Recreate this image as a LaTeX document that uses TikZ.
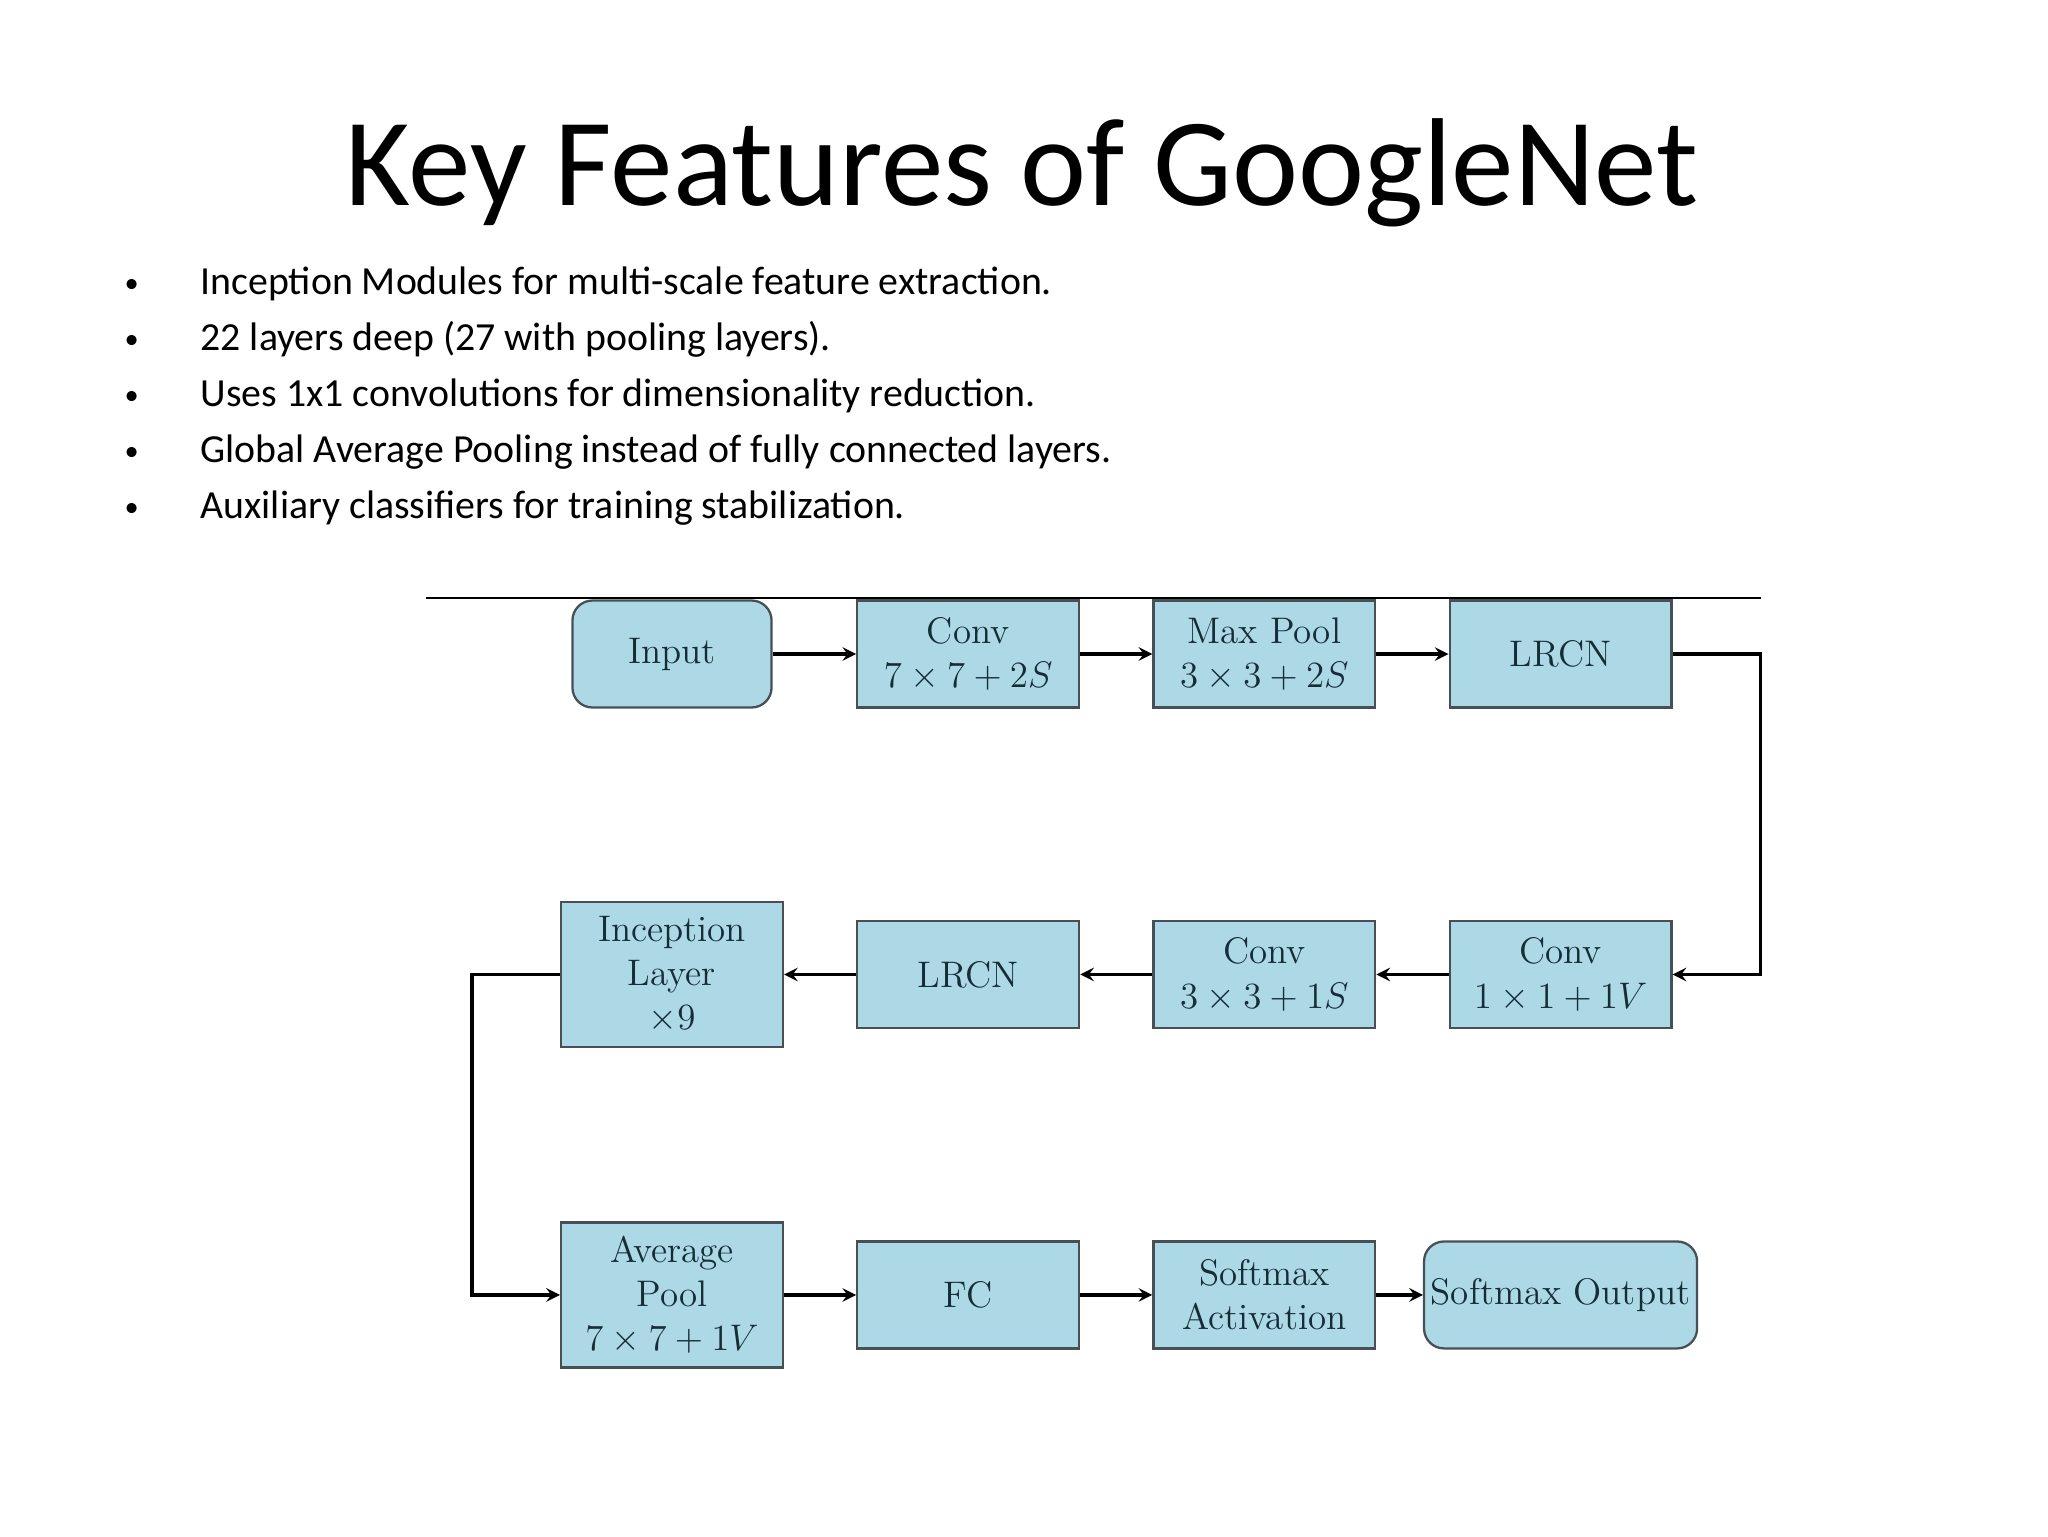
\documentclass[tikz,border=0pt]{standalone}
\usepackage{fix-cm}
\usepackage{fontspec}
\newfontfamily\slidefont{Carlito}
\usepackage{tikz}
\definecolor{boxblue}{RGB}{173,216,230}
\definecolor{boxline}{RGB}{70,80,85}
\definecolor{boxtext}{RGB}{20,45,55}

\begin{document}
\begin{tikzpicture}[x=0.3516pt, y=-0.3516pt, node distance=3.66cm, >=stealth,
    main/.style = {draw=boxline, line width=0.8pt, fill=boxblue, text=boxtext, align=center,
        minimum width=78pt, minimum height=37.6pt, inner sep=0pt, font=\fontsize{13}{15.5}\selectfont},
    tall/.style = {main, minimum height=51pt},
    term/.style = {main, rounded corners=7pt},
    link/.style = {line width=1.1pt, ->},
    slide/.style = {anchor=base west, inner sep=0pt, font=\slidefont\fontsize{14}{17}\selectfont},
    dot/.style = {anchor=base west, inner sep=0pt, font=\slidefont\fontsize{10}{12}\selectfont}]
    \useasboundingbox (0,0) rectangle (2048,1536);

    \node[anchor=base, font=\slidefont\fontsize{44}{53}\selectfont] (title) at (1022,205) {Key Features of GoogleNet};

    \node[dot] (d1) at (124,292) {•};
    \node[slide] (t1) at (200,294) {Inception Modules for multi-scale feature extraction.};
    \node[dot] (d2) at (124,348) {•};
    \node[slide] (t2) at (200,350) {22 layers deep (27 with pooling layers).};
    \node[dot] (d3) at (124,404) {•};
    \node[slide] (t3) at (200,406) {Uses 1x1 convolutions for dimensionality reduction.};
    \node[dot] (d4) at (124,460) {•};
    \node[slide] (t4) at (200,462) {Global Average Pooling instead of fully connected layers.};
    \node[dot] (d5) at (124,516) {•};
    \node[slide] (t5) at (200,518) {Auxiliary classifiers for training stabilization.};

    \draw[line width=0.8pt] (426,598) -- (1761,598);

    \node[term, minimum width=70pt] (input) at (672,654) {Input};
    \node[main, right of=input] (conv1) {Conv\\$7\times7+2S$};
    \node[main, right of=conv1] (pool1) {Max Pool\\$3\times3+2S$};
    \node[main, right of=pool1] (lrcn1) {LRCN};
    \draw[link] (input) -- (conv1);
    \draw[link] (conv1) -- (pool1);
    \draw[link] (pool1) -- (lrcn1);

    \node[main, below of=lrcn1, yshift=-0.3cm] (conv2) {Conv\\$1\times1+1V$};
    \node[main, left of=conv2] (conv3) {Conv\\$3\times3+1S$};
    \node[main, left of=conv3] (lrcn2) {LRCN};
    \node[tall, left of=lrcn2] (incep) {Inception\\Layer\\$\times9$};
    \draw[link] (lrcn1.east) -- ++(88,0) |- (conv2.east);
    \draw[link] (conv2) -- (conv3);
    \draw[link] (conv3) -- (lrcn2);
    \draw[link] (lrcn2) -- (incep);

    \node[tall, below of=incep, yshift=-0.3cm] (avg) {Average\\Pool\\$7\times7+1V$};
    \node[main, right of=avg] (fc) {FC};
    \node[main, right of=fc] (smact) {Softmax\\Activation};
    \node[term, right of=smact, minimum width=96pt] (smout) {Softmax Output};
    \draw[link] (incep.west) -- ++(-88,0) |- (avg.west);
    \draw[link] (avg) -- (fc);
    \draw[link] (fc) -- (smact);
    \draw[link] (smact) -- (smout);
\end{tikzpicture}
\end{document}
